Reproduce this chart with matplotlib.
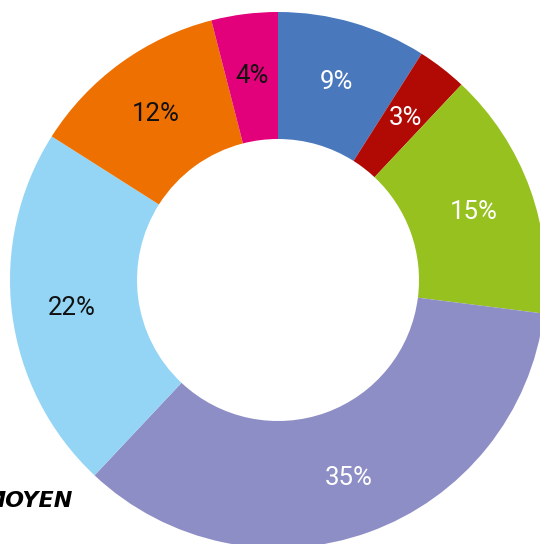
import matplotlib
matplotlib.use("Agg")
import matplotlib.pyplot as plt
import numpy as np

labels = ["9%", "3%", "15%", "35%", "22%", "12%", "4%"]
values = [9, 3, 15, 35, 22, 12, 4]
colors = ["#4A78BD", "#B10A05", "#96C11F", "#8E8EC6", "#94D5F5", "#EE7000", "#E3007B"]
label_colors = ["white", "white", "white", "white", "#111111", "#111111", "#111111"]
title_text = "MOYEN"

fam = ["Roboto", "DejaVu Sans"]

W, H = 540, 544
cx, cy = 278, 280
fig = plt.figure(figsize=(W / 100, H / 100), dpi=100)
ax = fig.add_axes([0, 0, 1, 1])
R = 268
wedges, _ = ax.pie(values, radius=R, startangle=90, counterclock=False,
                   colors=colors, wedgeprops=dict(width=127, linewidth=0))
cum = np.cumsum([0] + values)
for i, lab in enumerate(labels):
    mid = 90 - 360 * (cum[i] + values[i] / 2) / 100
    r = 208
    ax.text(r * np.cos(np.radians(mid)), r * np.sin(np.radians(mid)) - 2, lab,
            ha="center", va="center", fontsize=18.5, color=label_colors[i],
            family=fam, fontweight="normal")

ax.text(73 - cx, cy - 501, title_text, ha="right", va="center", fontsize=16,
        fontweight="bold", fontstyle="italic", color="black")

ax.set_xlim(-cx, W - cx)
ax.set_ylim(-(H - cy), cy)
ax.set_aspect("equal")
ax.axis("off")
fig.savefig("out.png", dpi=100)
